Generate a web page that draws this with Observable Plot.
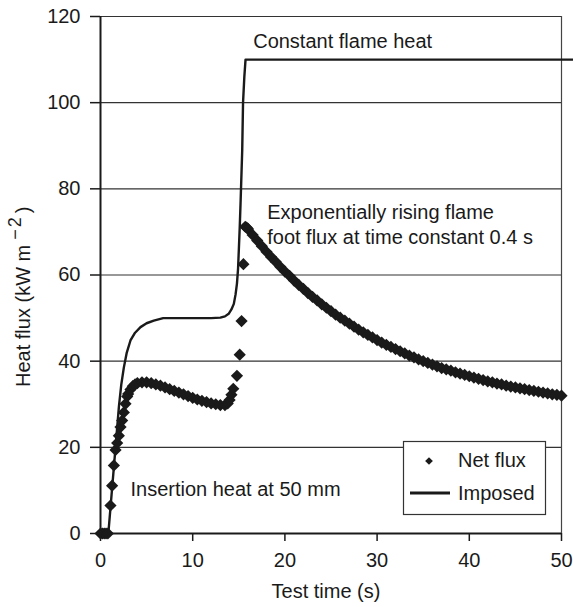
<!DOCTYPE html>
<html>
<head>
<meta charset="utf-8">
<script src="https://cdn.jsdelivr.net/npm/d3@7"></script>
<script src="https://cdn.jsdelivr.net/npm/@observablehq/plot@0.6"></script>
<style>
  html, body { margin: 0; padding: 0; background: #fff; }
  #chart { width: 573px; height: 607px; }
</style>
</head>
<body>
<div id="chart"></div>
<script>
// ---- Data ----
const xTicks = [0, 10, 20, 30, 40, 50];
const yTicks = [0, 20, 40, 60, 80, 100, 120];

// Imposed heat flux (solid line)
const imposedTime = [0, 0.85, 1.2, 1.63, 2.0, 2.25, 2.53, 2.85, 3.25, 3.75, 4.34, 5.0, 5.78, 6.8, 8, 10, 12, 13.0, 13.5, 13.9, 14.2, 14.46, 14.65, 14.8, 14.92, 15.0, 15.1, 15.2, 15.37, 15.46, 15.6, 15.73, 51.3];
const imposedFlux = [0, 0, 9, 20, 29.5, 34.5, 38.5, 42, 44.8, 46.6, 47.9, 48.8, 49.4, 50, 50, 50, 50, 50.1, 50.4, 51, 52, 53.3, 55.5, 58, 61.5, 65.7, 71, 77.3, 88.9, 100, 106, 110, 110];

// Net flux (diamonds)
const netTime = [
  0, 0.2, 0.4, 0.6, 0.8, 1.08, 1.26, 1.45, 1.63, 1.81, 1.99, 2.17, 2.35, 2.53, 2.71, 2.9,
  3.0, 3.25, 3.5, 3.75, 4.0, 4.5, 5.0, 5.5, 6.0, 6.5, 7.0, 7.5, 8.0, 8.5, 9.0, 9.5, 10, 10.5, 11, 11.5, 12, 12.5, 13, 13.5, 13.8,
  14.0, 14.2, 14.4, 14.8, 15.1, 15.3, 15.5, 15.7, 15.85,
  16, 16.5, 17, 17.5, 18, 18.5, 19, 19.5, 20, 20.5, 21, 21.5, 22, 22.5, 23, 23.5, 24, 24.5, 25, 25.5,
  26, 26.5, 27, 27.5, 28, 28.5, 29, 29.5, 30, 30.5, 31, 31.5, 32, 32.5, 33, 33.5, 34, 34.5, 35, 35.5,
  36, 36.5, 37, 37.5, 38, 38.5, 39, 39.5, 40, 40.5, 41, 41.5, 42, 42.5, 43, 43.5, 44, 44.5, 45, 45.5,
  46, 46.5, 47, 47.5, 48, 48.5, 49, 49.5, 50
];
const netFlux = [
  0, 0, 0, 0, 0, 6.5, 11.1, 15.8, 19.4, 21.0, 22.7, 24.7, 26.2, 28.1, 30.1, 31.8,
  32.4, 33.4, 34.2, 34.6, 34.9, 35.1, 35.1, 34.9, 34.6, 34.3, 33.9, 33.5, 33.1, 32.7, 32.3, 31.9, 31.5, 31.1, 30.8, 30.5, 30.2, 30.0, 29.8, 29.8, 30.2,
  31.0, 32.2, 33.6, 36.6, 41.5, 49.3, 62.5, 71.2, 71.0,
  70.7, 69.3, 68.0, 66.7, 65.4, 64.2, 63.1, 61.9, 60.8, 59.8, 58.7, 57.7, 56.8, 55.8, 54.9, 54.1, 53.2, 52.4, 51.6, 50.8,
  50.1, 49.4, 48.7, 48.0, 47.3, 46.7, 46.1, 45.5, 44.9, 44.3, 43.8, 43.3, 42.8, 42.3, 41.8, 41.3, 40.9, 40.4, 40.0, 39.6,
  39.2, 38.8, 38.4, 38.1, 37.8, 37.4, 37.1, 36.8, 36.5, 36.2, 35.9, 35.6, 35.3, 35.1, 34.8, 34.6, 34.3, 34.1, 33.9, 33.7,
  33.5, 33.3, 33.1, 32.9, 32.7, 32.5, 32.3, 32.2, 32.0
];

const noteTexts = ["Constant flame heat", "Exponentially rising flame", "foot flux at time constant 0.4 s", "Insertion heat at 50 mm"];
const noteTime = [16.56, 18.08, 18.08, 3.25];
const noteFlux = [112.6, 73.0, 67.2, 8.8];

const legendLabels = ["Net flux", "Imposed"];
const xLabel = "Test time (s)";
const yLabelMain = "Heat flux (kW m";
const yLabelSup = "\u22122";

// ---- Build tables ----
const imposed = imposedTime.map((t, i) => ({t, q: imposedFlux[i]}));
const net = netTime.map((t, i) => ({t, q: netFlux[i]}));
const notes = noteTexts.map((text, i) => ({text, t: noteTime[i], q: noteFlux[i]}));

const FONT = "'Liberation Sans', Arial, Helvetica, sans-serif";
const INK = "#1a1a1a";

const svg = Plot.plot({
  width: 573,
  height: 607,
  marginLeft: 100,
  marginRight: 12,
  marginTop: 16,
  marginBottom: 74,
  style: {fontFamily: FONT, fontSize: "20px", color: INK, background: "#fff", overflow: "visible"},
  x: {domain: [0, 50]},
  y: {domain: [0, 120]},
  marks: [
    Plot.ruleY(yTicks.filter(d => d > 0), {stroke: "#333", strokeWidth: 1.2}),
    Plot.ruleX([50], {stroke: "#444", strokeWidth: 1.2}),
    Plot.line(imposed, {x: "t", y: "q", stroke: INK, strokeWidth: 2.4, strokeLinejoin: "round"}),
    Plot.dot(net, {x: "t", y: "q", symbol: "diamond2", r: 5.5, fill: INK, stroke: "none"}),
    Plot.ruleX([0], {stroke: INK, strokeWidth: 2}),
    Plot.ruleY([0], {stroke: INK, strokeWidth: 2}),
    Plot.axisX({ticks: xTicks, tickSize: 8, tickPadding: 11, tickFormat: d => String(d), label: null, fontSize: 20, strokeWidth: 1.5}),
    Plot.axisY({ticks: yTicks, tickSize: 10, tickPadding: 10, tickFormat: d => String(d), label: null, fontSize: 20, strokeWidth: 1.5}),
    Plot.text(notes, {x: "t", y: "q", text: "text", textAnchor: "start", lineAnchor: "bottom", fontSize: 20, fill: INK}),
    Plot.text([xLabel], {frameAnchor: "bottom", lineAnchor: "bottom", dy: 64, dx: -5, fontSize: 20, fill: INK})
  ]
});

// ---- Y-axis title with superscript, and legend box ----
const s = d3.select(svg);
const yl = s.append("text")
  .attr("transform", "translate(30,387) rotate(-90)")
  .attr("text-anchor", "start")
  .attr("fill", INK)
  .style("font-family", FONT)
  .style("font-size", "20px");
yl.append("tspan").text(yLabelMain);
yl.append("tspan").attr("dy", -9).attr("dx", 5).style("font-size", "18px").style("letter-spacing", "2px").text(yLabelSup);
yl.append("tspan").attr("dy", 9).attr("dx", 2).text(")");

const lg = s.append("g").style("font-family", FONT).style("font-size", "20px").attr("text-anchor", "start");
lg.append("rect").attr("x", 403.5).attr("y", 441.5).attr("width", 142).attr("height", 73)
  .attr("fill", "#fff").attr("stroke", "#333").attr("stroke-width", 1.2);
lg.append("path").attr("d", d3.symbol(d3.symbolDiamond2, 38)()).attr("transform", "translate(429,461)").attr("fill", INK);
lg.append("line").attr("x1", 410).attr("x2", 450).attr("y1", 493).attr("y2", 493)
  .attr("stroke", INK).attr("stroke-width", 3);
lg.append("text").attr("x", 458).attr("y", 467).attr("text-anchor", "start").attr("fill", INK).text(legendLabels[0]);
lg.append("text").attr("x", 458).attr("y", 500).attr("text-anchor", "start").attr("fill", INK).text(legendLabels[1]);

document.getElementById("chart").appendChild(svg);
</script>
</body>
</html>
